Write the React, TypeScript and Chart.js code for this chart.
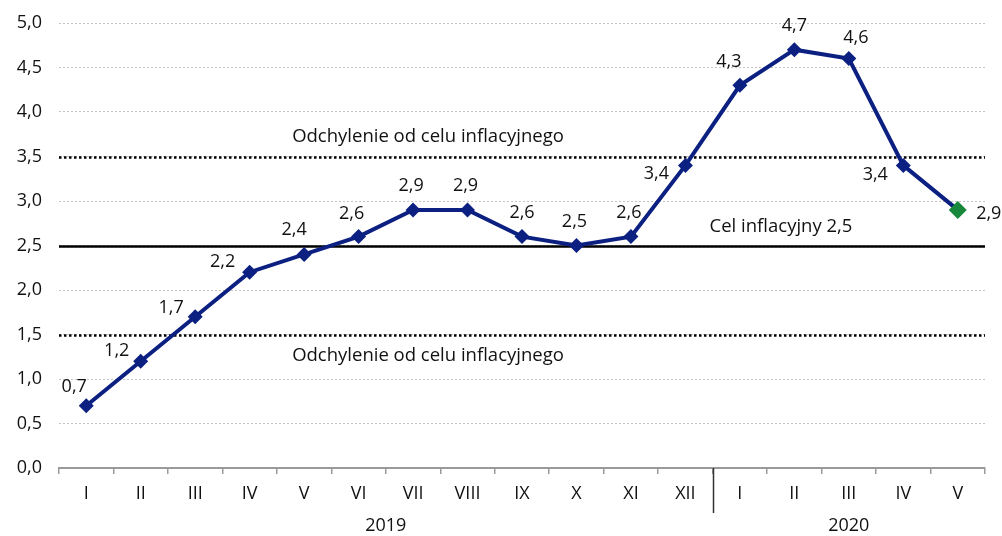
import React, { useEffect, useRef } from "react";
import { Chart, registerables } from "chart.js";

Chart.register(...registerables);

const months = ["I", "II", "III", "IV", "V", "VI", "VII", "VIII", "IX", "X", "XI", "XII", "I", "II", "III", "IV", "V"];
const inflation = [0.7, 1.2, 1.7, 2.2, 2.4, 2.6, 2.9, 2.9, 2.6, 2.5, 2.6, 3.4, 4.3, 4.7, 4.6, 3.4, 2.9];
// label offset from its point (dx, dy), a layout setting
const labelOffsets = [
  [-12, -19], [-24, -10], [-24, -9], [-27, -10], [-10, -25], [-7, -23], [-2, -24], [-2, -24], [0, -24],
  [-2, -24], [-2, -24], [-29, 8], [-11, -23], [0, -24], [7, -21], [-28, 9], [31, 4],
];
const years = [
  { label: "2019", from: 0, to: 11 },
  { label: "2020", from: 12, to: 16 },
];
const target = 2.5;
const bandUpper = 3.5;
const bandLower = 1.5;
const bandText = "Odchylenie od celu inflacyjnego";
const targetText = "Cel inflacyjny 2,5";

const NAVY = "#0b2080";
const GREEN = "#17873b";
const FONT = "'Open Sans', 'Noto Sans', sans-serif";
const FS = 18;

const fmt = (v: number) => v.toFixed(1).replace(".", ",");

const overlayPlugin = {
  id: "overlay",
  beforeDatasetsDraw(chart: any) {
    const { ctx, chartArea, scales } = chart;
    const y = scales.y;
    ctx.save();
    const hline = (v: number, dashed: boolean) => {
      const py = Math.round(y.getPixelForValue(v)) + 0.5;
      ctx.beginPath();
      ctx.lineWidth = 2.5;
      ctx.strokeStyle = "#000";
      ctx.setLineDash(dashed ? [2.5, 2.5] : []);
      ctx.moveTo(chartArea.left, py);
      ctx.lineTo(chartArea.right, py);
      ctx.stroke();
    };
    hline(bandUpper, true);
    hline(bandLower, true);
    hline(target, false);
    ctx.setLineDash([]);
    ctx.fillStyle = "#111";
    ctx.font = `18.5px ${FONT}`;
    ctx.textAlign = "center";
    ctx.textBaseline = "middle";
    ctx.fillText(bandText, 428, y.getPixelForValue(bandUpper) - 20);
    ctx.fillText(bandText, 428, y.getPixelForValue(bandLower) + 21);
    ctx.fillText(targetText, 781, y.getPixelForValue(target) - 19);
    ctx.restore();
  },
  afterDraw(chart: any) {
    const { ctx, scales, data } = chart;
    const x = scales.x;
    const y = scales.y;
    ctx.save();
    ctx.font = `${FS}px ${FONT}`;
    ctx.fillStyle = "#111";
    ctx.textBaseline = "middle";
    ctx.textAlign = "center";
    data.datasets[0].data.forEach((v: number, i: number) => {
      const px = x.getPixelForValue(i);
      const py = y.getPixelForValue(v);
      const [dx, dy] = labelOffsets[i];
      ctx.fillText(fmt(v), px + dx, py + dy);
    });
    const bottom = chart.chartArea.bottom;
    const w = x.getPixelForValue(1) - x.getPixelForValue(0);
    const sepX = Math.round(x.getPixelForValue(11) + w / 2) + 0.5;
    ctx.strokeStyle = "#333";
    ctx.lineWidth = 1.5;
    ctx.beginPath();
    ctx.moveTo(sepX, bottom);
    ctx.lineTo(sepX, bottom + 45);
    ctx.stroke();
    years.forEach((yr) => {
      const cx = (x.getPixelForValue(yr.from) + x.getPixelForValue(yr.to)) / 2;
      ctx.fillText(yr.label, cx, bottom + 58);
    });
    ctx.restore();
  },
};

export default function App() {
  const ref = useRef<HTMLCanvasElement>(null);
  useEffect(() => {
    document.body.style.margin = "0";
    const last = inflation.length - 1;
    const chart = new Chart(ref.current!, {
      type: "line",
      data: {
        labels: months,
        datasets: [
          {
            data: inflation,
            borderColor: NAVY,
            borderWidth: 4,
            pointStyle: "rectRot",
            pointBackgroundColor: inflation.map((_, i) => (i === last ? GREEN : NAVY)),
            pointBorderColor: inflation.map((_, i) => (i === last ? GREEN : NAVY)),
            pointBorderWidth: 0,
            pointRadius: inflation.map((_, i) => (i === last ? 9 : 7.5)),
            tension: 0,
          } as any,
        ],
      },
      options: {
        animation: false,
        responsive: false,
        maintainAspectRatio: false,
        layout: { padding: { left: 0, right: 17, top: 23, bottom: 0 } },
        plugins: { legend: { display: false }, tooltip: { enabled: false } },
        scales: {
          x: {
            offset: true,
            afterFit: (s: any) => {
              s.height = 68;
              s.paddingLeft = 0;
              s.paddingRight = 0;
            },
            grid: {
              offset: true,
              drawOnChartArea: false,
              drawTicks: true,
              tickLength: 6,
              color: "#9a9a9a",
              lineWidth: 1.5,
            },
            border: { display: true, color: "#9a9a9a", width: 2 },
            ticks: {
              font: { family: FONT, size: FS },
              color: "#111",
              padding: 9,
              maxRotation: 0,
              autoSkip: false,
            },
          },
          y: {
            min: 0,
            max: 5,
            afterFit: (s: any) => {
              s.width = 59;
              s.paddingTop = 0;
              s.paddingBottom = 0;
            },
            grid: {
              color: "#c4c4c4",
              lineWidth: 1,
              drawTicks: false,
            },
            border: { display: false, dash: [2, 2] },
            ticks: {
              stepSize: 0.5,
              padding: 17,
              font: { family: FONT, size: FS },
              color: "#111",
              callback: (v: any) => fmt(Number(v)),
            },
          },
        },
      },
      plugins: [overlayPlugin],
    });
    return () => chart.destroy();
  }, []);
  return (
    <div style={{ width: 1002, height: 536 }}>
      <canvas ref={ref} width={1002} height={536} style={{ width: 1002, height: 536, display: "block" }} />
    </div>
  );
}
